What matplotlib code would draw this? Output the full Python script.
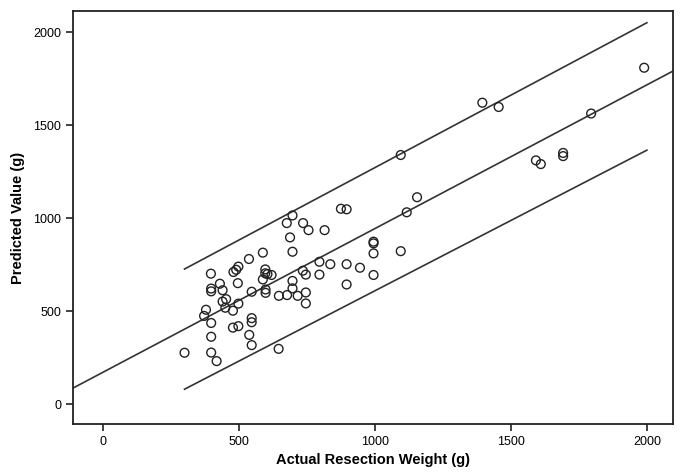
import matplotlib
matplotlib.use("Agg")
import matplotlib.pyplot as plt

plt.rcParams['font.family'] = ['Liberation Sans', 'DejaVu Sans']

# Actual resection weight (g) vs predicted value (g)
actual = [300, 372, 379, 397, 398, 398, 398, 398, 398, 418,
          430, 440, 440, 453, 450, 478, 478, 498, 498, 496,
          480, 490, 498, 537, 547, 547, 547, 538, 547, 588,
          588, 597, 597, 605, 620, 598, 598, 646, 647, 677,
          716, 697, 697, 688, 697, 697, 676, 736, 756, 815,
          875, 896, 735, 746, 746, 746, 796, 796, 836, 896,
          896, 945, 995, 995, 995, 995, 1095, 1117, 1155, 1095,
          1395, 1455, 1592, 1610, 1692, 1692, 1795, 1990]
predicted = [276, 474, 507, 701, 621, 606, 436, 362, 277, 231,
             647, 612, 551, 564, 518, 502, 411, 419, 540, 650,
             710, 722, 739, 780, 604, 462, 440, 372, 317, 814,
             670, 724, 703, 699, 694, 616, 598, 297, 582, 586,
             582, 662, 622, 896, 819, 1014, 973, 973, 935, 935,
             1050, 1047, 717, 696, 600, 541, 765, 696, 752, 752,
             643, 733, 873, 864, 810, 694, 822, 1031, 1112, 1339,
             1620, 1597, 1310, 1290, 1350, 1333, 1562, 1808]

# fit line and prediction interval ends
fit_intercept = 171
fit_slope = 0.7725
band_x = [300, 2000]
band_upper = [726, 2050]
band_lower = [80, 1365]

xlim = (-110, 2096)
ylim = (-107, 2113)

fig = plt.figure(figsize=(6.81, 4.72), dpi=100)
ax = fig.add_axes([73 / 681, 1 - 424 / 472, 600 / 681, 413 / 472])

line_col = '#333333'
ax.plot([xlim[0], xlim[1]],
        [fit_intercept + fit_slope * xlim[0], fit_intercept + fit_slope * xlim[1]],
        color=line_col, lw=1.2, zorder=2)
ax.plot(band_x, band_upper, color=line_col, lw=1.2, zorder=2)
ax.plot(band_x, band_lower, color=line_col, lw=1.2, zorder=2)

ax.scatter(actual, predicted, s=40, facecolors='none', edgecolors='#222222',
           linewidths=1.0, zorder=3)

ax.set_xlim(*xlim)
ax.set_ylim(*ylim)
ax.set_xticks([0, 500, 1000, 1500, 2000])
ax.set_yticks([0, 500, 1000, 1500, 2000])
ax.tick_params(direction='out', length=5, width=1.2, labelsize=9, color='#222222')
for s in ax.spines.values():
    s.set_linewidth(1.3)
    s.set_color('#222222')

ax.set_xlabel('Actual Resection Weight (g)', fontsize=10.5, fontweight='bold', labelpad=4)
ax.set_ylabel('Predicted Value (g)', fontsize=10.5, fontweight='bold', labelpad=6)

fig.savefig('out.png', dpi=100)
